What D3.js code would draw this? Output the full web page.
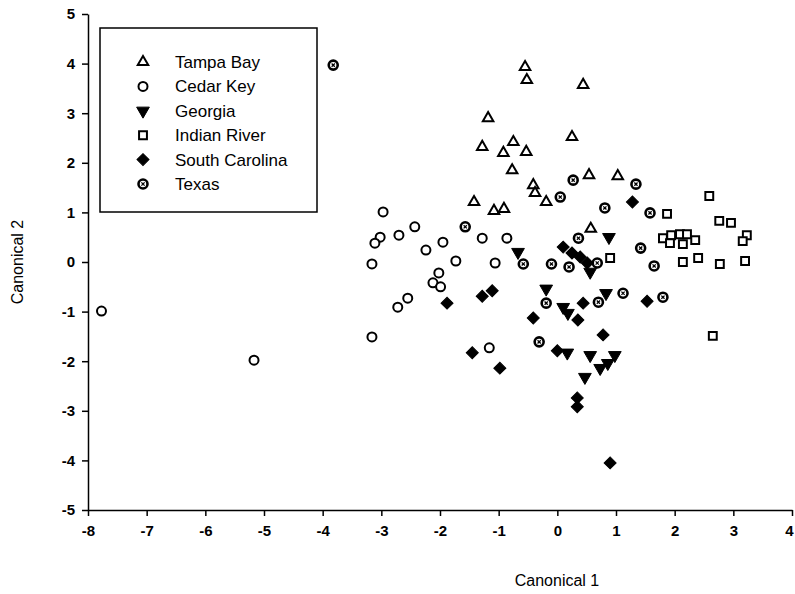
<!DOCTYPE html>
<html>
<head>
<meta charset="utf-8">
<script src="https://d3js.org/d3.v7.min.js"></script>
<style>
  body { margin: 0; background: #fff; }
  text { font-family: "Liberation Sans", Arial, sans-serif; fill: #000; }
  .axis path, .axis line { stroke: #000; stroke-width: 1.5px; }
  .axis text { font-size: 15px; font-weight: bold; }
</style>
</head>
<body>
<script>
// canonical scores, [canonical 1, canonical 2]
var tampaBay = [[-0.55,3.93],[-0.52,3.67],[0.44,3.57],[-1.18,2.90],[0.25,2.52],[-1.28,2.32],
  [-0.75,2.42],[-0.92,2.20],[-0.53,2.22],[-0.77,1.85],[-0.41,1.55],[-0.38,1.39],[-0.19,1.21],
  [-1.42,1.21],[-1.08,1.03],[-0.91,1.07],[0.54,1.75],[1.03,1.73],[0.57,0.67]];
var cedarKey = [[-7.77,-0.99],[-5.17,-1.98],[-2.97,1.01],[-3.02,0.50],[-3.11,0.38],[-2.70,0.54],
  [-2.43,0.71],[-2.24,0.24],[-1.95,0.40],[-1.28,0.48],[-0.86,0.48],[-1.73,0.02],[-1.06,-0.02],
  [-3.16,-0.04],[-2.02,-0.22],[-2.12,-0.42],[-1.99,-0.50],[-2.55,-0.73],[-2.72,-0.91],
  [-3.16,-1.51],[-1.16,-1.73]];
var georgia = [[-0.67,0.20],[0.88,0.50],[-0.19,-0.54],[0.56,-0.20],[0.10,-0.91],[0.18,-1.03],
  [0.83,-0.63],[0.17,-1.83],[0.56,-1.88],[0.98,-1.88],[0.86,-2.04],[0.73,-2.14],[0.47,-2.32]];
var indianRiver = [[2.59,1.33],[1.87,0.97],[2.76,0.83],[2.96,0.79],[3.23,0.54],[3.16,0.42],
  [1.80,0.48],[1.94,0.54],[2.09,0.56],[2.21,0.56],[2.35,0.44],[1.92,0.38],[2.14,0.36],
  [2.14,0.00],[2.40,0.08],[2.77,-0.04],[3.20,0.02],[0.90,0.08],[2.65,-1.49]];
var southCarolina = [[1.28,1.21],[0.10,0.30],[0.25,0.18],[0.39,0.10],[0.51,-0.02],[-1.88,-0.83],
  [-1.28,-0.69],[-1.11,-0.58],[-0.41,-1.13],[0.35,-1.17],[0.44,-0.83],[0.78,-1.47],[0.00,-1.79],
  [1.53,-0.79],[-1.45,-1.83],[-0.98,-2.14],[0.34,-2.74],[0.34,-2.92],[0.90,-4.05]];
var texas = [[-3.82,3.97],[-1.57,0.71],[-0.58,-0.04],[-0.10,-0.04],[0.20,-0.10],[0.36,0.48],
  [0.68,-0.02],[0.27,1.65],[0.05,1.31],[0.81,1.09],[1.34,1.57],[1.58,0.99],[1.42,0.28],
  [1.65,-0.08],[-0.19,-0.83],[0.70,-0.81],[1.12,-0.63],[1.80,-0.71],[-0.31,-1.61]];

var groupNames = ["Tampa Bay", "Cedar Key", "Georgia", "Indian River", "South Carolina", "Texas"];
var groupData = [tampaBay, cedarKey, georgia, indianRiver, southCarolina, texas];
var xTicks = [-8,-7,-6,-5,-4,-3,-2,-1,0,1,2,3,4];
var yTicks = [-5,-4,-3,-2,-1,0,1,2,3,4,5];

var width = 795, height = 594;
var svg = d3.select("body").append("svg").attr("width", width).attr("height", height);

var x = d3.scaleLinear().domain([-8, 4]).range([88, 792]);
var y = d3.scaleLinear().domain([-5, 5]).range([510, 14]);

// plain hyphen for negatives, like the original
var fmt = function (d) { return String(d); };

var xAxis = svg.append("g").attr("class", "axis")
  .attr("transform", "translate(0,510)")
  .call(d3.axisBottom(x).tickValues(xTicks).tickFormat(fmt).tickSize(6).tickSizeOuter(0).tickPadding(9));
// keep the last label inside the window
xAxis.selectAll(".tick text").filter(function (d) { return d === 4; }).attr("dx", "-3");

svg.append("g").attr("class", "axis")
  .attr("transform", "translate(88,0)")
  .call(d3.axisLeft(y).tickValues(yTicks).tickFormat(fmt).tickSize(6).tickSizeOuter(0).tickPadding(7));

svg.append("text").attr("x", 557).attr("y", 586).attr("text-anchor", "middle")
  .style("font-size", "16px").text("Canonical 1");
svg.append("text").attr("transform", "translate(23,262) rotate(-90)").attr("text-anchor", "middle")
  .style("font-size", "16px").text("Canonical 2");

// marker drawing per group
function drawMarker(g, i) {
  if (i === 0) {
    g.append("path").attr("d", d3.symbol(d3.symbolTriangle, 48)())
      .attr("fill", "#fff").attr("stroke", "#000").attr("stroke-width", 2);
  } else if (i === 1) {
    g.append("circle").attr("r", 4.5).attr("fill", "#fff").attr("stroke", "#000").attr("stroke-width", 2);
  } else if (i === 2) {
    g.append("path").attr("d", d3.symbol(d3.symbolTriangle, 70)()).attr("transform", "rotate(180)")
      .attr("fill", "#000").attr("stroke", "#000").attr("stroke-width", 1);
  } else if (i === 3) {
    g.append("path").attr("d", d3.symbol(d3.symbolSquare, 62)())
      .attr("fill", "#fff").attr("stroke", "#000").attr("stroke-width", 2);
  } else if (i === 4) {
    g.append("path").attr("d", d3.symbol(d3.symbolSquare, 72)()).attr("transform", "rotate(45)")
      .attr("fill", "#000").attr("stroke", "#000").attr("stroke-width", 1);
  } else {
    g.append("circle").attr("r", 4.5).attr("fill", "#fff").attr("stroke", "#000").attr("stroke-width", 2.6);
    g.append("path").attr("d", "M-1.6,-1.6L1.6,1.6M-1.6,1.6L1.6,-1.6")
      .attr("stroke", "#000").attr("stroke-width", 1.3);
  }
}

groupData.forEach(function (pts, i) {
  svg.append("g").selectAll("g")
    .data(pts)
    .enter().append("g")
    .attr("transform", function (d) { return "translate(" + x(d[0]) + "," + y(d[1]) + ")"; })
    .each(function () { drawMarker(d3.select(this), i); });
});

// legend
var legend = svg.append("g");
legend.append("rect").attr("x", 100).attr("y", 28).attr("width", 217).attr("height", 184)
  .attr("fill", "#fff").attr("stroke", "#000").attr("stroke-width", 1.5);
groupNames.forEach(function (name, i) {
  var ly = 62 + i * 24.4;
  var g = legend.append("g").attr("transform", "translate(143," + ly + ")");
  drawMarker(g, i);
  legend.append("text").attr("x", 175).attr("y", ly).attr("dy", "0.35em")
    .style("font-size", "17px").text(name);
});
</script>
</body>
</html>
